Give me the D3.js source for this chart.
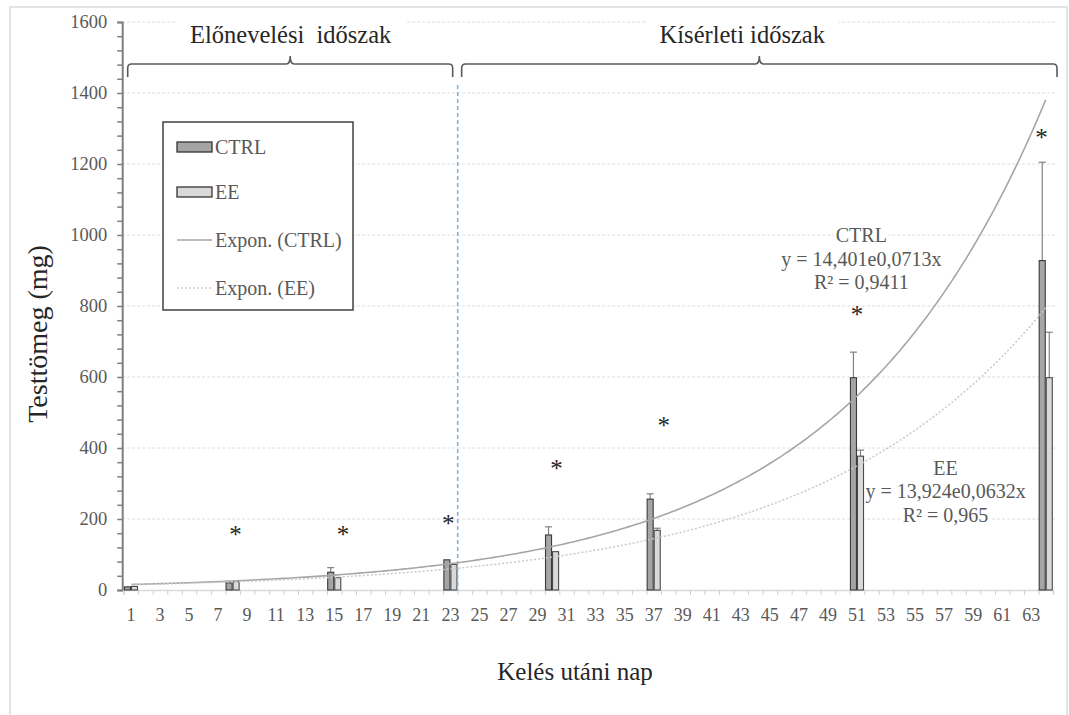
<!DOCTYPE html>
<html>
<head>
<meta charset="utf-8">
<script src="https://cdn.jsdelivr.net/npm/d3@7"></script>
<style>
  html, body { margin: 0; padding: 0; background: #fff; }
  svg { display: block; font-family: "Liberation Serif", "Times New Roman", serif; }
  svg text { font-family: "Liberation Serif", "Times New Roman", serif; }
</style>
</head>
<body>
<svg id="chart" width="1069" height="715"></svg>
<script>
// Body mass (mg) by day after hatching, two groups
const days = [1, 8, 15, 23, 30, 37, 51, 64];
const ctrlMean = [9, 20, 50, 85, 155, 256, 598, 928];
const eeMean = [10, 24, 35, 72, 108, 168, 377, 598];
const ctrlSD = [0, 0, 13, 0, 23, 15, 72, 277];
const eeSD = [0, 0, 0, 0, 0, 6, 17, 128];

// Significance markers (position in day units and mg)
const sigDay = [8.2, 15.6, 22.85, 30.3, 37.7, 51, 63.7];
const sigLevel = [160, 160, 192, 346, 468, 781, 1279];

// Exponential trendlines y = a * e^(b x)
const ctrlTrend = [14.401, 0.0713];
const eeTrend = [13.924, 0.0632];
const ctrlTrendText = ["CTRL", "y = 14,401e0,0713x", "R² = 0,9411"];
const eeTrendText = ["EE", "y = 13,924e0,0632x", "R² = 0,965"];
const ctrlLabelAt = [51.3, 1000];
const eeLabelAt = [57.1, 345];

// Periods
const periodNames = ["Előnevelési  időszak", "Kísérleti időszak"];
const periodStart = [1, 24];
const periodEnd = [23, 64];
const periodTitleDay = [12, 43.1];

// Axes
const categoryCount = 64;
const xTickLabels = [1, 3, 5, 7, 9, 11, 13, 15, 17, 19, 21, 23, 25, 27, 29, 31,
  33, 35, 37, 39, 41, 43, 45, 47, 49, 51, 53, 55, 57, 59, 61, 63];
const yTicks = [0, 200, 400, 600, 800, 1000, 1200, 1400, 1600];
const yMinorStep = 40;
const seriesNames = ["CTRL", "EE"];
const trendNames = ["Expon. (CTRL)", "Expon. (EE)"];

const svg = d3.select("#chart");
const plot = { left: 123.7, right: 1053, top: 22, bottom: 590 };

const categories = d3.range(1, categoryCount + 1);
const x = d3.scaleBand().domain(categories).range([plot.left, plot.right]).paddingInner(0.03).paddingOuter(0.015);
const xc = d3.scaleLinear().domain([1, categoryCount])
  .range([x(1) + x.bandwidth() / 2, x(categoryCount) + x.bandwidth() / 2]);
const xEdge = d3.scaleLinear().domain([0, categoryCount]).range([plot.left, plot.right]);
const y = d3.scaleLinear().domain([0, 1600]).range([plot.bottom, plot.top]);

const TEXT = "#595959";
const CTRL_FILL = "#a5a5a5", EE_FILL = "#d9d9d9", BAR_STROKE = "#3a3a3a";

// outer frame
svg.append("rect").attr("x", 10).attr("y", 7).attr("width", 1057).attr("height", 730)
  .attr("fill", "none").attr("stroke", "#e3e3e3").attr("stroke-width", 2);

// horizontal gridlines
svg.append("g").selectAll("line").data(yTicks.filter(v => v > 0)).join("line")
  .attr("x1", plot.left - 1.5).attr("x2", plot.right + 2)
  .attr("y1", d => y(d)).attr("y2", d => y(d))
  .attr("stroke", "#dcdcdc").attr("stroke-width", 1).attr("stroke-dasharray", "3,2");

// text lines of the trend equations
function labelLines(pos, lines) {
  const cx = xc(pos[0]);
  const cy = y(pos[1]);
  return lines.map((t, i) => ({ t, cx, cy: cy + i * 23.5 }));
}
const ctrlLines = labelLines(ctrlLabelAt, ctrlTrendText);
const eeLines = labelLines(eeLabelAt, eeTrendText);

// white boxes behind texts sit above gridlines
const bgLayer = svg.append("g");

function cleanAxis(g) {
  g.attr("font-family", null).attr("font-size", null);
}

// y axis
const yAxis = svg.append("g").attr("transform", `translate(${plot.left - 1.5},0)`);
yAxis.call(d3.axisLeft(y).tickValues(d3.range(0, 1601, yMinorStep)).tickSize(5).tickFormat(""));
yAxis.select(".domain").attr("stroke", "#7f7f7f").attr("stroke-width", 2);
yAxis.selectAll(".tick line").attr("stroke", "#7f7f7f").attr("stroke-width", 1.5);
const yLab = svg.append("g").attr("transform", `translate(${plot.left - 1.5},0)`)
  .call(d3.axisLeft(y).tickValues(yTicks).tickSize(0).tickPadding(15).tickFormat(d3.format("d")));
cleanAxis(yLab);
yLab.select(".domain").remove();
yLab.selectAll("text").attr("fill", TEXT).style("font-size", "18.5px");

// x axis: boundary ticks and labels
const xAxis = svg.append("g").attr("transform", `translate(0,${plot.bottom})`)
  .call(d3.axisBottom(xEdge).tickValues(d3.range(0, categoryCount + 1)).tickSize(5).tickFormat(""));
xAxis.select(".domain").attr("stroke", "#d9d9d9").attr("stroke-width", 1.5);
xAxis.selectAll(".tick line").attr("stroke", "#d0d0d0");
const xLab = svg.append("g").attr("transform", `translate(0,${plot.bottom})`)
  .call(d3.axisBottom(x).tickValues(xTickLabels).tickSize(0).tickPadding(18));
cleanAxis(xLab);
xLab.select(".domain").remove();
xLab.selectAll("text").attr("fill", TEXT).style("font-size", "18px");

// bars
const rows = days.map((d, i) => ({ day: d, ctrl: ctrlMean[i], ee: eeMean[i], cs: ctrlSD[i], es: eeSD[i] }));
const hw = x.bandwidth() / 2;

// error bars first so bar outlines sit on top
const errG = svg.append("g");
function errBar(cx, mean, sd) {
  if (sd <= 0) return;
  errG.append("line").attr("x1", cx).attr("x2", cx).attr("y1", y(mean)).attr("y2", y(mean + sd))
    .attr("stroke", "#808080").attr("stroke-width", 1.2);
  errG.append("line").attr("x1", cx - 3.5).attr("x2", cx + 3.5).attr("y1", y(mean + sd)).attr("y2", y(mean + sd))
    .attr("stroke", "#808080").attr("stroke-width", 1.2);
}
rows.forEach(r => {
  errBar(x(r.day) + hw / 2, r.ctrl, r.cs);
  errBar(x(r.day) + hw * 1.5, r.ee, r.es);
});

const barG = svg.append("g");
barG.selectAll("rect.ctrl").data(rows).join("rect").attr("class", "ctrl")
  .attr("x", d => x(d.day) + 0.5).attr("width", hw - 1)
  .attr("y", d => y(d.ctrl)).attr("height", d => y(0) - y(d.ctrl))
  .attr("fill", CTRL_FILL).attr("stroke", BAR_STROKE).attr("stroke-width", 1.1);
barG.selectAll("rect.ee").data(rows).join("rect").attr("class", "ee")
  .attr("x", d => x(d.day) + hw + 0.5).attr("width", hw - 1)
  .attr("y", d => y(d.ee)).attr("height", d => y(0) - y(d.ee))
  .attr("fill", EE_FILL).attr("stroke", "#4a4a4a").attr("stroke-width", 1.1);

// boundary between periods
const splitX = xEdge(periodEnd[0]);
svg.append("line").attr("x1", splitX).attr("x2", splitX).attr("y1", 85).attr("y2", plot.bottom)
  .attr("stroke", "#7fb2e0").attr("stroke-width", 1.6).attr("stroke-dasharray", "4,3");

// trendlines
const trendDays = d3.range(1, categoryCount + 0.01, 0.25);
const line = d3.line().x(d => xc(d[0])).y(d => y(d[1]));
svg.append("path").datum(trendDays.map(d => [d, ctrlTrend[0] * Math.exp(ctrlTrend[1] * d)]))
  .attr("d", line).attr("fill", "none").attr("stroke", "#a6a6a6").attr("stroke-width", 1.6);
svg.append("path").datum(trendDays.map(d => [d, eeTrend[0] * Math.exp(eeTrend[1] * d)]))
  .attr("d", line).attr("fill", "none").attr("stroke", "#c9c9c9").attr("stroke-width", 1.5)
  .attr("stroke-dasharray", "2,2");

// trend equations
function drawLabel(lines) {
  const g = svg.append("g");
  lines.forEach(l => {
    const t = g.append("text").attr("x", l.cx).attr("y", l.cy).attr("text-anchor", "middle")
      .attr("dominant-baseline", "central").attr("fill", TEXT).style("font-size", "20px").text(l.t);
    const bb = t.node().getBBox();
    bgLayer.append("rect").attr("x", bb.x - 2).attr("y", bb.y + 2).attr("width", bb.width + 4).attr("height", bb.height - 4)
      .attr("fill", "#fff");
  });
}
drawLabel(ctrlLines);
drawLabel(eeLines);

// significance markers
svg.append("g").selectAll("text").data(sigDay.map((d, i) => [d, sigLevel[i]])).join("text")
  .attr("x", d => xc(d[0])).attr("y", d => y(d[1]) + 10).attr("text-anchor", "middle")
  .attr("fill", "#262626").style("font-size", "25px").text("*");

// period brackets and titles
periodNames.forEach((name, i) => {
  const x1 = xEdge(periodStart[i] - 1) + 4;
  const x2 = xEdge(periodEnd[i]) + (i === 0 ? -5 : 4);
  const mid = (x1 + x2) / 2;
  const yh = 64, yEnd = 77, yPeak = 56;
  const p = d3.path();
  p.moveTo(x1, yEnd);
  p.lineTo(x1, yh + 4);
  p.quadraticCurveTo(x1, yh, x1 + 4, yh);
  p.lineTo(mid - 4, yh);
  p.quadraticCurveTo(mid, yh, mid, yPeak);
  p.quadraticCurveTo(mid, yh, mid + 4, yh);
  p.lineTo(x2 - 4, yh);
  p.quadraticCurveTo(x2, yh, x2, yh + 4);
  p.lineTo(x2, yEnd);
  svg.append("path").attr("d", p.toString()).attr("fill", "none")
    .attr("stroke", "#595959").attr("stroke-width", 1.6);
  const t = svg.append("text").attr("x", xc(periodTitleDay[i])).attr("y", 43).attr("text-anchor", "middle")
    .attr("fill", "#262626").style("font-size", "24.5px").style("white-space", "pre").text(name);
  const bb = t.node().getBBox();
  bgLayer.append("rect").attr("x", bb.x - 13).attr("y", 16).attr("width", bb.width + 26).attr("height", 12)
    .attr("fill", "#fff");
});

// legend
const lg = svg.append("g");
lg.append("rect").attr("x", 163).attr("y", 122).attr("width", 190).attr("height", 188)
  .attr("fill", "#fff").attr("stroke", "#404040").attr("stroke-width", 1.5);
const legendY = [147, 192, 240, 288];
[CTRL_FILL, EE_FILL].forEach((c, i) => {
  lg.append("rect").attr("x", 177).attr("y", legendY[i] - 5).attr("width", 35).attr("height", 10)
    .attr("fill", c).attr("stroke", "#333").attr("stroke-width", 1.3);
});
lg.append("line").attr("x1", 177).attr("x2", 212).attr("y1", legendY[2]).attr("y2", legendY[2])
  .attr("stroke", "#a6a6a6").attr("stroke-width", 1.6);
lg.append("line").attr("x1", 177).attr("x2", 212).attr("y1", legendY[3]).attr("y2", legendY[3])
  .attr("stroke", "#c9c9c9").attr("stroke-width", 1.5).attr("stroke-dasharray", "2,2");
seriesNames.concat(trendNames).forEach((n, i) => {
  lg.append("text").attr("x", 215).attr("y", legendY[i]).attr("dominant-baseline", "central")
    .attr("fill", TEXT).style("font-size", "20px").text(n);
});

// axis titles
svg.append("text").attr("x", 575).attr("y", 680).attr("text-anchor", "middle")
  .attr("fill", "#262626").style("font-size", "25px").text("Kelés utáni nap");
svg.append("text").attr("transform", "translate(47,334) rotate(-90)").attr("text-anchor", "middle")
  .attr("fill", "#262626").style("font-size", "28px").text("Testtömeg (mg)");
</script>
</body>
</html>
